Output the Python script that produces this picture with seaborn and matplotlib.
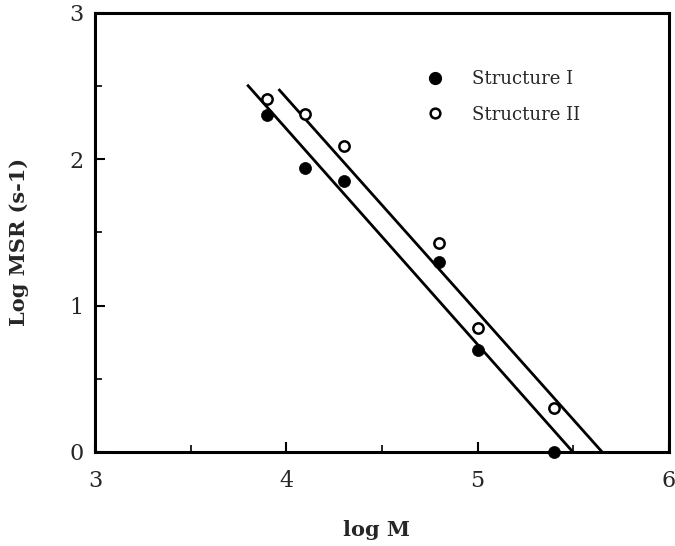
import numpy as np
import pandas as pd
import seaborn as sns
import matplotlib.pyplot as plt
from matplotlib.ticker import MultipleLocator
from matplotlib.lines import Line2D

# Data
log_m = [3.9, 4.1, 4.3, 4.8, 5.0, 5.4]
msr_struct_1 = [2.30, 1.94, 1.85, 1.30, 0.70, 0.00]
msr_struct_2 = [2.41, 2.31, 2.09, 1.43, 0.85, 0.30]
labels = ["Structure I", "Structure II"]
line_top = [2.51, 2.48]  # y where each fitted line starts

df = pd.DataFrame({
    "log M": log_m * 2,
    "Log MSR": msr_struct_1 + msr_struct_2,
    "Structure": [labels[0]] * 6 + [labels[1]] * 6,
})

sns.set_style("ticks")
plt.rcParams["font.family"] = ["DejaVu Serif"]

fig = plt.figure(figsize=(6.75, 5.46), dpi=100)
ax = fig.add_axes([0.1407, 0.1722, 0.8504, 0.804])

# fitted lines, from y = line_top down to y = 0
for lab, top in zip(labels, line_top):
    d = df[df["Structure"] == lab]
    slope, icpt = np.polyfit(d["log M"], d["Log MSR"], 1)
    ys = np.array([top, 0.0])
    xs = (ys - icpt) / slope
    ax.plot(xs, ys, color="black", lw=2.0, solid_capstyle="butt", zorder=2)

d1 = df[df["Structure"] == labels[0]]
d2 = df[df["Structure"] == labels[1]]
sns.scatterplot(data=d1, x="log M", y="Log MSR", ax=ax, s=75, color="black",
                edgecolor="black", linewidth=0.5, zorder=3, clip_on=False)
sns.scatterplot(data=d2, x="log M", y="Log MSR", ax=ax, s=55, facecolor="white",
                edgecolor="black", linewidth=1.8, zorder=3, clip_on=False)

ax.set_xlim(3, 6)
ax.set_ylim(0, 3)
ax.xaxis.set_major_locator(MultipleLocator(1))
ax.yaxis.set_major_locator(MultipleLocator(1))
ax.xaxis.set_minor_locator(MultipleLocator(0.5))
ax.yaxis.set_minor_locator(MultipleLocator(0.5))
ax.tick_params(which="major", direction="in", length=7, width=1.5,
               labelsize=16, color="black")
ax.tick_params(axis="x", which="major", pad=13)
ax.tick_params(axis="y", which="major", pad=8)
ax.tick_params(which="minor", direction="in", length=5, width=1.2, color="black")
for sp in ax.spines.values():
    sp.set_linewidth(2.2)
    sp.set_color("black")

ax.set_xlabel("log M", fontsize=15, fontweight="bold")
ax.set_ylabel("Log MSR (s-1)", fontsize=15, fontweight="bold")
ax.xaxis.set_label_coords(0.49, -0.155)
ax.yaxis.set_label_coords(-0.115, 0.478)

handles = [
    Line2D([], [], marker="o", ls="none", color="black", markersize=8.5),
    Line2D([], [], marker="o", ls="none", markerfacecolor="white",
           markeredgecolor="black", markeredgewidth=1.8, markersize=7),
]
ax.legend(handles, labels, frameon=False, fontsize=13, loc="upper left",
          bbox_to_anchor=(0.577, 0.870), borderaxespad=0, borderpad=0,
          handlelength=1, handletextpad=1.55, labelspacing=0.97)

fig.savefig("out.png", dpi=100)
